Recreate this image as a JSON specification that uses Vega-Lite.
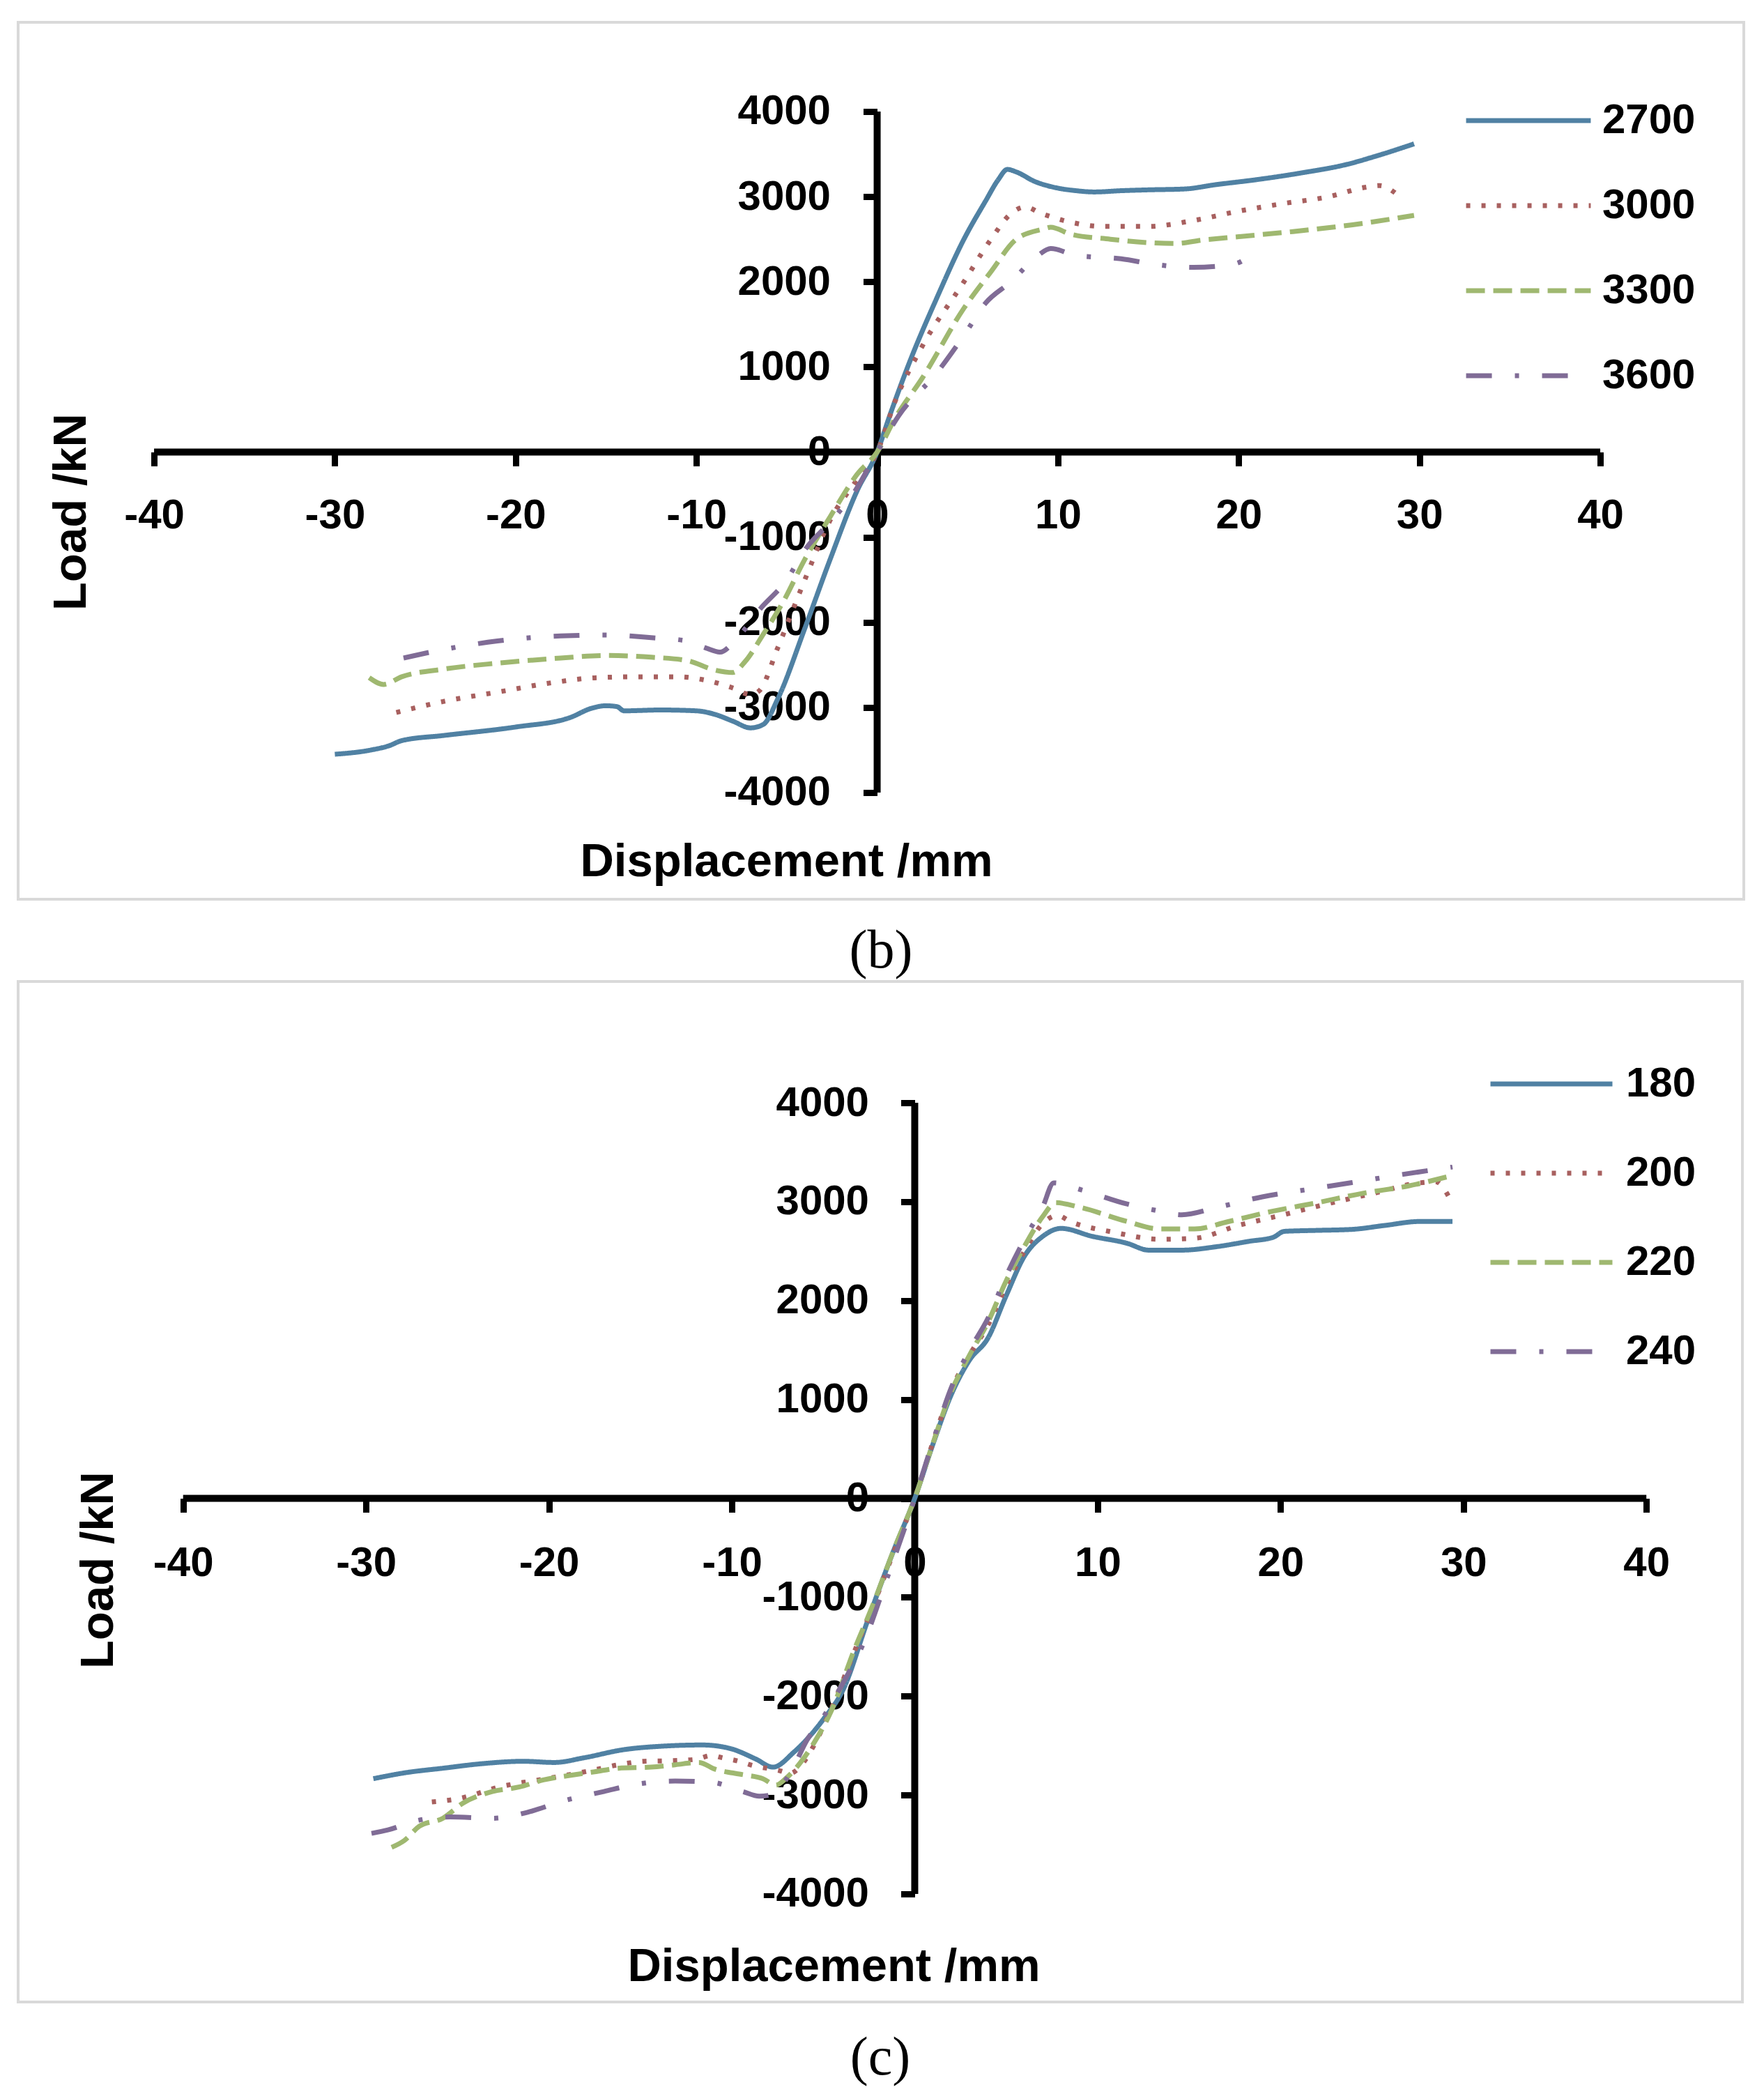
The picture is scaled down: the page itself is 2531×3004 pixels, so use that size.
{
  "$schema": "https://vega.github.io/schema/vega-lite/v6.json",
  "background": "white",
  "padding": {"left": 24, "top": 30, "right": 20, "bottom": 10},
  "config": {
    "view": {"stroke": "#d9d9d9", "strokeWidth": 4},
    "font": "Liberation Sans",
    "axis": {
      "domain": false, "grid": false, "tickColor": "black", "tickSize": 20, "tickWidth": 9,
      "labelFont": "Liberation Sans", "labelFontSize": 60, "labelFontWeight": "bold", "labelColor": "black",
      "labelFlush": false, "labelOverlap": false, "labelBound": false,
      "titleFont": "Liberation Sans", "titleFontSize": 67, "titleFontWeight": "bold", "titleColor": "black",
      "titleBaseline": "alphabetic", "titleAlign": "center"
    },
    "legend": {
      "orient": "none", "title": null, "symbolType": "stroke", "symbolStrokeWidth": 7,
      "labelFont": "Liberation Sans", "labelFontSize": 60, "labelFontWeight": "bold", "labelColor": "black",
      "rowPadding": 0, "padding": 0
    }
  },
  "datasets": {
    "panelB": [
      {"series": "2700", "disp": -30, "load": -3550}, {"series": "2700", "disp": -28, "load": -3500},
      {"series": "2700", "disp": -27, "load": -3450}, {"series": "2700", "disp": -26.3, "load": -3390},
      {"series": "2700", "disp": -24, "load": -3330}, {"series": "2700", "disp": -20, "load": -3230},
      {"series": "2700", "disp": -17, "load": -3120}, {"series": "2700", "disp": -15.8, "load": -3010},
      {"series": "2700", "disp": -15, "load": -2980}, {"series": "2700", "disp": -14.4, "load": -2990},
      {"series": "2700", "disp": -14, "load": -3040}, {"series": "2700", "disp": -12, "load": -3030},
      {"series": "2700", "disp": -10, "load": -3040}, {"series": "2700", "disp": -9, "load": -3080},
      {"series": "2700", "disp": -8, "load": -3160}, {"series": "2700", "disp": -7, "load": -3240},
      {"series": "2700", "disp": -6.3, "load": -3200}, {"series": "2700", "disp": -5.5, "load": -2900},
      {"series": "2700", "disp": -4, "load": -2070}, {"series": "2700", "disp": -2.6, "load": -1260},
      {"series": "2700", "disp": -1.1, "load": -450}, {"series": "2700", "disp": 0, "load": 0},
      {"series": "2700", "disp": 0.7, "load": 430}, {"series": "2700", "disp": 1.8, "load": 1060},
      {"series": "2700", "disp": 3.3, "load": 1810}, {"series": "2700", "disp": 4.8, "load": 2500},
      {"series": "2700", "disp": 6, "load": 2950}, {"series": "2700", "disp": 6.7, "load": 3200},
      {"series": "2700", "disp": 7.2, "load": 3320}, {"series": "2700", "disp": 7.7, "load": 3290},
      {"series": "2700", "disp": 8.7, "load": 3180}, {"series": "2700", "disp": 10, "load": 3100},
      {"series": "2700", "disp": 11, "load": 3070}, {"series": "2700", "disp": 12, "load": 3055},
      {"series": "2700", "disp": 13.5, "load": 3070}, {"series": "2700", "disp": 15, "load": 3080},
      {"series": "2700", "disp": 17, "load": 3090}, {"series": "2700", "disp": 18.7, "load": 3140},
      {"series": "2700", "disp": 21, "load": 3200}, {"series": "2700", "disp": 23.5, "load": 3280},
      {"series": "2700", "disp": 26, "load": 3380}, {"series": "2700", "disp": 27.5, "load": 3470},
      {"series": "2700", "disp": 29.7, "load": 3620},

      {"series": "3000", "disp": -26.6, "load": -3060}, {"series": "3000", "disp": -24, "load": -2930},
      {"series": "3000", "disp": -21, "load": -2820}, {"series": "3000", "disp": -18, "load": -2710},
      {"series": "3000", "disp": -15.5, "load": -2650}, {"series": "3000", "disp": -13, "load": -2640},
      {"series": "3000", "disp": -11, "load": -2640}, {"series": "3000", "disp": -9.5, "load": -2680},
      {"series": "3000", "disp": -8, "load": -2770}, {"series": "3000", "disp": -7, "load": -2850},
      {"series": "3000", "disp": -6.5, "load": -2800}, {"series": "3000", "disp": -5.5, "load": -2300},
      {"series": "3000", "disp": -4, "load": -1500}, {"series": "3000", "disp": -2.6, "load": -800},
      {"series": "3000", "disp": -1.2, "load": -350}, {"series": "3000", "disp": 0, "load": 0},
      {"series": "3000", "disp": 1, "load": 600}, {"series": "3000", "disp": 2.5, "load": 1245},
      {"series": "3000", "disp": 4.8, "load": 2000}, {"series": "3000", "disp": 6.3, "load": 2500},
      {"series": "3000", "disp": 7.4, "load": 2800}, {"series": "3000", "disp": 8.2, "load": 2880},
      {"series": "3000", "disp": 9, "load": 2810}, {"series": "3000", "disp": 10.7, "load": 2700},
      {"series": "3000", "disp": 12.5, "load": 2650}, {"series": "3000", "disp": 15, "load": 2650},
      {"series": "3000", "disp": 17.5, "load": 2720}, {"series": "3000", "disp": 20, "load": 2830},
      {"series": "3000", "disp": 22.5, "load": 2920}, {"series": "3000", "disp": 25, "load": 3000},
      {"series": "3000", "disp": 27, "load": 3110}, {"series": "3000", "disp": 27.8, "load": 3130},
      {"series": "3000", "disp": 28.8, "load": 3020},

      {"series": "3300", "disp": -28.1, "load": -2650}, {"series": "3300", "disp": -27.3, "load": -2730},
      {"series": "3300", "disp": -26.3, "load": -2640}, {"series": "3300", "disp": -24, "load": -2550},
      {"series": "3300", "disp": -21, "load": -2480}, {"series": "3300", "disp": -17.5, "load": -2420},
      {"series": "3300", "disp": -15, "load": -2390}, {"series": "3300", "disp": -12.5, "load": -2410},
      {"series": "3300", "disp": -10.5, "load": -2450}, {"series": "3300", "disp": -9, "load": -2560},
      {"series": "3300", "disp": -8, "load": -2590}, {"series": "3300", "disp": -7.3, "load": -2460},
      {"series": "3300", "disp": -6.3, "load": -2140}, {"series": "3300", "disp": -5.2, "load": -1760},
      {"series": "3300", "disp": -4, "load": -1260}, {"series": "3300", "disp": -2.6, "load": -760},
      {"series": "3300", "disp": -1.1, "load": -260}, {"series": "3300", "disp": 0, "load": 0},
      {"series": "3300", "disp": 1, "load": 400}, {"series": "3300", "disp": 2.5, "load": 870},
      {"series": "3300", "disp": 4.8, "load": 1690}, {"series": "3300", "disp": 6.3, "load": 2120},
      {"series": "3300", "disp": 7.7, "load": 2500}, {"series": "3300", "disp": 9.2, "load": 2620},
      {"series": "3300", "disp": 9.6, "load": 2640}, {"series": "3300", "disp": 10.7, "load": 2560},
      {"series": "3300", "disp": 12.9, "load": 2500}, {"series": "3300", "disp": 15, "load": 2460},
      {"series": "3300", "disp": 16.5, "load": 2450}, {"series": "3300", "disp": 18, "load": 2490},
      {"series": "3300", "disp": 20, "load": 2530}, {"series": "3300", "disp": 23, "load": 2590},
      {"series": "3300", "disp": 26.3, "load": 2670}, {"series": "3300", "disp": 29.7, "load": 2780},

      {"series": "3600", "disp": -26.2, "load": -2420}, {"series": "3600", "disp": -24, "load": -2320},
      {"series": "3600", "disp": -21, "load": -2220}, {"series": "3600", "disp": -17.5, "load": -2160},
      {"series": "3600", "disp": -15, "load": -2150}, {"series": "3600", "disp": -12.5, "load": -2180},
      {"series": "3600", "disp": -10.5, "load": -2220}, {"series": "3600", "disp": -9.5, "load": -2300},
      {"series": "3600", "disp": -8.7, "load": -2350}, {"series": "3600", "disp": -7.8, "load": -2200},
      {"series": "3600", "disp": -6.5, "load": -1850}, {"series": "3600", "disp": -5, "load": -1500},
      {"series": "3600", "disp": -4, "load": -1150}, {"series": "3600", "disp": -2.5, "load": -800},
      {"series": "3600", "disp": -1.2, "load": -450}, {"series": "3600", "disp": 0, "load": 0},
      {"series": "3600", "disp": 1.2, "load": 430}, {"series": "3600", "disp": 3.3, "load": 930},
      {"series": "3600", "disp": 4.8, "load": 1370}, {"series": "3600", "disp": 6, "load": 1750},
      {"series": "3600", "disp": 7.4, "load": 2000}, {"series": "3600", "disp": 8.9, "load": 2310},
      {"series": "3600", "disp": 9.6, "load": 2390}, {"series": "3600", "disp": 11, "load": 2310},
      {"series": "3600", "disp": 13.5, "load": 2270}, {"series": "3600", "disp": 15.5, "load": 2200},
      {"series": "3600", "disp": 17.5, "load": 2170}, {"series": "3600", "disp": 19.5, "load": 2200},
      {"series": "3600", "disp": 20.3, "load": 2260}, {"series": "3600", "disp": 20.9, "load": 2420}
    ],
    "panelC": [
      {"series": "180", "disp": -29.6, "load": -2835}, {"series": "180", "disp": -27.9, "load": -2776},
      {"series": "180", "disp": -25.8, "load": -2729}, {"series": "180", "disp": -23.6, "load": -2682},
      {"series": "180", "disp": -21.4, "load": -2659}, {"series": "180", "disp": -19.7, "load": -2671},
      {"series": "180", "disp": -18.1, "load": -2624}, {"series": "180", "disp": -15.9, "load": -2541},
      {"series": "180", "disp": -13.8, "load": -2506}, {"series": "180", "disp": -11.6, "load": -2494},
      {"series": "180", "disp": -10.1, "load": -2529}, {"series": "180", "disp": -8.7, "load": -2635},
      {"series": "180", "disp": -7.75, "load": -2718}, {"series": "180", "disp": -6.6, "load": -2565},
      {"series": "180", "disp": -5, "load": -2235}, {"series": "180", "disp": -3.9, "load": -1929},
      {"series": "180", "disp": -2.6, "load": -1250}, {"series": "180", "disp": -1.2, "load": -550},
      {"series": "180", "disp": 0, "load": 0}, {"series": "180", "disp": 1, "load": 550},
      {"series": "180", "disp": 2, "load": 1050}, {"series": "180", "disp": 3, "load": 1400},
      {"series": "180", "disp": 4, "load": 1620}, {"series": "180", "disp": 5, "load": 2050},
      {"series": "180", "disp": 6, "load": 2450}, {"series": "180", "disp": 7, "load": 2650},
      {"series": "180", "disp": 8, "load": 2730}, {"series": "180", "disp": 9.7, "load": 2650},
      {"series": "180", "disp": 11.6, "load": 2580}, {"series": "180", "disp": 12.8, "load": 2510},
      {"series": "180", "disp": 14.6, "load": 2510}, {"series": "180", "disp": 16.5, "load": 2545},
      {"series": "180", "disp": 18.3, "load": 2600}, {"series": "180", "disp": 19.6, "load": 2640},
      {"series": "180", "disp": 20.2, "load": 2700}, {"series": "180", "disp": 22, "load": 2710},
      {"series": "180", "disp": 23.9, "load": 2720}, {"series": "180", "disp": 25.7, "load": 2760},
      {"series": "180", "disp": 27.6, "load": 2800}, {"series": "180", "disp": 29.4, "load": 2800},

      {"series": "200", "disp": -26.4, "load": -3070}, {"series": "200", "disp": -24.9, "load": -3035},
      {"series": "200", "disp": -22.7, "load": -2918}, {"series": "200", "disp": -20, "load": -2830},
      {"series": "200", "disp": -17.7, "load": -2753}, {"series": "200", "disp": -16.2, "load": -2694},
      {"series": "200", "disp": -14.8, "load": -2659}, {"series": "200", "disp": -13.5, "load": -2654},
      {"series": "200", "disp": -12, "load": -2640}, {"series": "200", "disp": -11.1, "load": -2600},
      {"series": "200", "disp": -10.5, "load": -2624}, {"series": "200", "disp": -9.6, "load": -2659},
      {"series": "200", "disp": -9, "load": -2694}, {"series": "200", "disp": -7.4, "load": -2753},
      {"series": "200", "disp": -6.8, "load": -2780}, {"series": "200", "disp": -6.3, "load": -2718},
      {"series": "200", "disp": -5.5, "load": -2494}, {"series": "200", "disp": -4.5, "load": -2100},
      {"series": "200", "disp": -3.3, "load": -1550}, {"series": "200", "disp": -2.3, "load": -1100},
      {"series": "200", "disp": -1.1, "load": -520}, {"series": "200", "disp": 0, "load": 0},
      {"series": "200", "disp": 1, "load": 570}, {"series": "200", "disp": 2, "load": 1100},
      {"series": "200", "disp": 3, "load": 1450}, {"series": "200", "disp": 4, "load": 1750},
      {"series": "200", "disp": 5, "load": 2150}, {"series": "200", "disp": 6, "load": 2500},
      {"series": "200", "disp": 7, "load": 2780}, {"series": "200", "disp": 7.8, "load": 2860},
      {"series": "200", "disp": 8.5, "load": 2800}, {"series": "200", "disp": 10.9, "load": 2690},
      {"series": "200", "disp": 13.4, "load": 2620}, {"series": "200", "disp": 15.3, "load": 2630},
      {"series": "200", "disp": 17.7, "load": 2760}, {"series": "200", "disp": 20.2, "load": 2870},
      {"series": "200", "disp": 22.6, "load": 2980}, {"series": "200", "disp": 25.1, "load": 3085},
      {"series": "200", "disp": 27.6, "load": 3190}, {"series": "200", "disp": 28.5, "load": 3200},
      {"series": "200", "disp": 29.2, "load": 3050},

      {"series": "220", "disp": -28.6, "load": -3529}, {"series": "220", "disp": -27.9, "load": -3459},
      {"series": "220", "disp": -27.1, "load": -3318}, {"series": "220", "disp": -25.8, "load": -3235},
      {"series": "220", "disp": -24.7, "load": -3082}, {"series": "220", "disp": -23.1, "load": -2965},
      {"series": "220", "disp": -21.6, "load": -2918}, {"series": "220", "disp": -20.3, "load": -2847},
      {"series": "220", "disp": -18.8, "load": -2800}, {"series": "220", "disp": -17.5, "load": -2765},
      {"series": "220", "disp": -16.2, "load": -2729}, {"series": "220", "disp": -14.4, "load": -2718},
      {"series": "220", "disp": -13.1, "load": -2694}, {"series": "220", "disp": -11.8, "load": -2671},
      {"series": "220", "disp": -10.9, "load": -2740}, {"series": "220", "disp": -10, "load": -2776},
      {"series": "220", "disp": -9.2, "load": -2800}, {"series": "220", "disp": -8.3, "load": -2835},
      {"series": "220", "disp": -7.6, "load": -2900}, {"series": "220", "disp": -7, "load": -2824},
      {"series": "220", "disp": -6.1, "load": -2635}, {"series": "220", "disp": -5.5, "load": -2470},
      {"series": "220", "disp": -4.6, "load": -2165}, {"series": "220", "disp": -3.3, "load": -1529},
      {"series": "220", "disp": -2.4, "load": -1129}, {"series": "220", "disp": -1.1, "load": -500},
      {"series": "220", "disp": 0, "load": 0}, {"series": "220", "disp": 1, "load": 560},
      {"series": "220", "disp": 2, "load": 1080}, {"series": "220", "disp": 3, "load": 1450},
      {"series": "220", "disp": 4, "load": 1780}, {"series": "220", "disp": 5, "load": 2200},
      {"series": "220", "disp": 6, "load": 2550}, {"series": "220", "disp": 7, "load": 2850},
      {"series": "220", "disp": 7.7, "load": 2990}, {"series": "220", "disp": 9.1, "load": 2940},
      {"series": "220", "disp": 11.6, "load": 2800}, {"series": "220", "disp": 13.4, "load": 2724},
      {"series": "220", "disp": 15.3, "load": 2724}, {"series": "220", "disp": 17.1, "load": 2797},
      {"series": "220", "disp": 19.6, "load": 2905}, {"series": "220", "disp": 22, "load": 2990},
      {"series": "220", "disp": 24.5, "load": 3085}, {"series": "220", "disp": 27, "load": 3160},
      {"series": "220", "disp": 29.4, "load": 3265},

      {"series": "240", "disp": -29.7, "load": -3388}, {"series": "240", "disp": -28.8, "load": -3353},
      {"series": "240", "disp": -27.2, "load": -3258}, {"series": "240", "disp": -25.4, "load": -3222},
      {"series": "240", "disp": -23.1, "load": -3235}, {"series": "240", "disp": -21.2, "load": -3176},
      {"series": "240", "disp": -19.2, "load": -3059}, {"series": "240", "disp": -17, "load": -2965},
      {"series": "240", "disp": -15.3, "load": -2894}, {"series": "240", "disp": -13.1, "load": -2859},
      {"series": "240", "disp": -11.1, "load": -2871}, {"series": "240", "disp": -9.4, "load": -2965},
      {"series": "240", "disp": -8.5, "load": -3012}, {"series": "240", "disp": -7.9, "load": -3000},
      {"series": "240", "disp": -6.8, "load": -2776}, {"series": "240", "disp": -5.9, "load": -2447},
      {"series": "240", "disp": -5, "load": -2212}, {"series": "240", "disp": -3.9, "load": -1859},
      {"series": "240", "disp": -2.84, "load": -1482}, {"series": "240", "disp": -1.5, "load": -800},
      {"series": "240", "disp": 0, "load": 0}, {"series": "240", "disp": 1, "load": 580},
      {"series": "240", "disp": 2, "load": 1120}, {"series": "240", "disp": 3, "load": 1500},
      {"series": "240", "disp": 4, "load": 1820}, {"series": "240", "disp": 5, "load": 2250},
      {"series": "240", "disp": 6, "load": 2620}, {"series": "240", "disp": 7, "load": 2950},
      {"series": "240", "disp": 7.6, "load": 3190}, {"series": "240", "disp": 9.1, "load": 3120},
      {"series": "240", "disp": 11.6, "load": 2977}, {"series": "240", "disp": 13.4, "load": 2905},
      {"series": "240", "disp": 14.6, "load": 2868}, {"series": "240", "disp": 16.5, "load": 2941},
      {"series": "240", "disp": 19, "load": 3049}, {"series": "240", "disp": 21.4, "load": 3121},
      {"series": "240", "disp": 23.9, "load": 3193}, {"series": "240", "disp": 26.3, "load": 3265},
      {"series": "240", "disp": 29.4, "load": 3351}
    ]
  },
  "spacing": 118,
  "bounds": "flush",
  "resolve": {
    "scale": {"x": "independent", "y": "independent", "color": "independent", "strokeDash": "independent"},
    "axis": {"x": "independent", "y": "independent"},
    "legend": {"color": "independent", "strokeDash": "independent"}
  },
  "vconcat": [
    {
      "width": 2476,
      "height": 1258,
      "title": {"text": "(b)", "orient": "bottom", "anchor": "middle", "font": "Liberation Serif", "fontSize": 78, "fontWeight": "normal", "color": "black", "offset": 36},
      "layer": [
        {
          "data": {"values": [{}]},
          "mark": {"type": "rule", "color": "black", "strokeWidth": 10},
          "encoding": {
            "x": {"datum": -40, "type": "quantitative"},
            "x2": {"datum": 40},
            "y": {"datum": 0, "type": "quantitative"}
          }
        },
        {
          "data": {"values": [{}]},
          "mark": {"type": "rule", "color": "black", "strokeWidth": 10},
          "encoding": {
            "x": {"datum": 0, "type": "quantitative"},
            "y": {"datum": -4000, "type": "quantitative"},
            "y2": {"datum": 4000}
          }
        },
        {
          "data": {"name": "panelB"},
          "mark": {"type": "line", "strokeWidth": 7, "strokeCap": "butt", "strokeJoin": "round", "interpolate": "monotone"},
          "encoding": {
            "x": {
              "field": "disp", "type": "quantitative",
              "scale": {"domain": [-47.52, 47.94], "nice": false, "zero": false},
              "axis": {
                "orient": "bottom", "offset": -641.5, "values": [-40, -30, -20, -10, 0, 10, 20, 30, 40],
                "labelPadding": 42, "labelExpr": "'' + datum.value",
                "title": "Displacement /mm", "titleX": 1102, "titleY": 608
              }
            },
            "y": {
              "field": "load", "type": "quantitative",
              "scale": {"domain": [-5253, 5048], "nice": false, "zero": false},
              "axis": {
                "orient": "left", "offset": -1232.5, "values": [-4000, -3000, -2000, -1000, 0, 1000, 2000, 3000, 4000],
                "labelPadding": 47, "labelExpr": "'' + datum.value",
                "title": "Load /kN", "titleAngle": -90, "titleX": -1136, "titleY": 702
              }
            },
            "color": {
              "field": "series", "type": "nominal",
              "scale": {"domain": ["2700", "3000", "3300", "3600"], "range": ["#5081a3", "#a8605f", "#9fb870", "#806c96"]},
              "legend": {"legendX": 2074, "legendY": 80, "symbolSize": 32000, "clipHeight": 122, "labelOffset": 13}
            },
            "strokeDash": {
              "field": "series", "type": "nominal",
              "scale": {"domain": ["2700", "3000", "3300", "3600"], "range": [[1, 0], [6, 16], [27, 12], [37, 33, 6, 33]]},
              "legend": {"legendX": 2074, "legendY": 80, "symbolSize": 32000, "clipHeight": 122, "labelOffset": 13}
            }
          }
        }
      ]
    },
    {
      "width": 2474,
      "height": 1464,
      "title": {"text": "(c)", "orient": "bottom", "anchor": "middle", "font": "Liberation Serif", "fontSize": 78, "fontWeight": "normal", "color": "black", "offset": 42},
      "layer": [
        {
          "data": {"values": [{}]},
          "mark": {"type": "rule", "color": "black", "strokeWidth": 10},
          "encoding": {
            "x": {"datum": -40, "type": "quantitative"},
            "x2": {"datum": 40},
            "y": {"datum": 0, "type": "quantitative"}
          }
        },
        {
          "data": {"values": [{}]},
          "mark": {"type": "rule", "color": "black", "strokeWidth": 10},
          "encoding": {
            "x": {"datum": 0, "type": "quantitative"},
            "y": {"datum": -4000, "type": "quantitative"},
            "y2": {"datum": 4000}
          }
        },
        {
          "data": {"name": "panelC"},
          "mark": {"type": "line", "strokeWidth": 7, "strokeCap": "butt", "strokeJoin": "round", "interpolate": "monotone"},
          "encoding": {
            "x": {
              "field": "disp", "type": "quantitative",
              "scale": {"domain": [-49.02, 45.25], "nice": false, "zero": false},
              "axis": {
                "orient": "bottom", "offset": -722.5, "values": [-40, -30, -20, -10, 0, 10, 20, 30, 40],
                "labelPadding": 44, "labelExpr": "'' + datum.value",
                "title": "Displacement /mm", "titleX": 1170, "titleY": 692
              }
            },
            "y": {
              "field": "load", "type": "quantitative",
              "scale": {"domain": [-5093, 5227], "nice": false, "zero": false},
              "axis": {
                "orient": "left", "offset": -1286.5, "values": [-4000, -3000, -2000, -1000, 0, 1000, 2000, 3000, 4000],
                "labelPadding": 46, "labelExpr": "'' + datum.value",
                "title": "Load /kN", "titleAngle": -90, "titleX": -1151, "titleY": 844
              }
            },
            "color": {
              "field": "series", "type": "nominal",
              "scale": {"domain": ["180", "200", "220", "240"], "range": ["#5081a3", "#a8605f", "#9fb870", "#806c96"]},
              "legend": {"legendX": 2109, "legendY": 83, "symbolSize": 30625, "clipHeight": 128, "labelOffset": 16}
            },
            "strokeDash": {
              "field": "series", "type": "nominal",
              "scale": {"domain": ["180", "200", "220", "240"], "range": [[1, 0], [6, 16], [27, 12], [37, 33, 6, 33]]},
              "legend": {"legendX": 2109, "legendY": 83, "symbolSize": 30625, "clipHeight": 128, "labelOffset": 16}
            }
          }
        }
      ]
    }
  ]
}
